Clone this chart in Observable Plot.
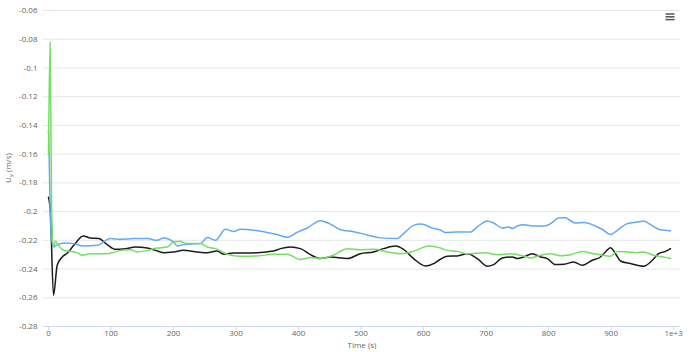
<!DOCTYPE html>
<html>
<head>
<meta charset="utf-8">
<script src="https://cdn.jsdelivr.net/npm/d3@7"></script>
<script src="https://cdn.jsdelivr.net/npm/@observablehq/plot@0.6"></script>
<style>
  html, body { margin: 0; padding: 0; background: #fff; }
  #chart { width: 690px; height: 352px; }
</style>
</head>
<body>
<div id="chart"></div>
<script>
const xTicks = [0, 100, 200, 300, 400, 500, 600, 700, 800, 900, 1000];
const yTicks = [-0.28, -0.26, -0.24, -0.22, -0.2, -0.18, -0.16, -0.14, -0.12, -0.1, -0.08, -0.06];
const seriesNames = ["Probe 1", "Probe 2", "Probe 3"];
const seriesColors = ["#62aaf0", "#1c1c1c", "#74df62"];

const blueT = [0, 1, 3, 6, 8.5, 14, 27, 40, 56, 78, 99, 115, 136, 158, 174, 184, 200, 206, 216, 243, 254, 267, 283, 296, 307, 328, 350, 366, 382, 398, 414, 435, 451, 467, 488, 510, 531, 558, 568, 584, 595, 616, 627, 635, 654, 675, 686, 702, 712, 726, 736, 742, 750, 760, 774, 793, 803, 816, 827, 835, 843, 857, 872, 888, 899, 910, 926, 942, 952, 963, 976, 987, 995];
const blueV = [-0.143, -0.16, -0.205, -0.222, -0.2247, -0.223, -0.2219, -0.2223, -0.224, -0.2235, -0.2188, -0.2193, -0.2188, -0.2188, -0.22, -0.2184, -0.2212, -0.224, -0.223, -0.2223, -0.2181, -0.22, -0.2123, -0.2139, -0.2123, -0.213, -0.2146, -0.216, -0.2179, -0.2144, -0.2114, -0.2063, -0.2087, -0.2126, -0.214, -0.2163, -0.2183, -0.2188, -0.2153, -0.2096, -0.2087, -0.2117, -0.2128, -0.2146, -0.2142, -0.2142, -0.2107, -0.2065, -0.2079, -0.2114, -0.2107, -0.2118, -0.21, -0.2091, -0.21, -0.21, -0.2084, -0.2045, -0.2043, -0.2064, -0.2079, -0.2076, -0.2095, -0.213, -0.216, -0.213, -0.2084, -0.2073, -0.2066, -0.2091, -0.2123, -0.213, -0.2135];

const blackT = [0, 3, 8, 13.9, 21.9, 29.9, 40.5, 55.5, 67, 80.5, 94, 107, 123, 139, 158, 171, 184, 200, 216, 238, 254, 270, 280, 296, 323, 360, 371, 387, 403, 419, 435, 451, 478, 499, 520, 536, 555, 568, 584, 603, 616, 627, 638, 654, 670, 686, 702, 712, 726, 742, 750, 760, 774, 787, 798, 811, 825, 840, 854, 870, 883, 891, 899, 907, 915, 931, 952, 966, 976, 987, 995];
const blackV = [-0.19, -0.2, -0.2583, -0.2374, -0.2316, -0.229, -0.2235, -0.217, -0.2184, -0.2188, -0.223, -0.2263, -0.2258, -0.2247, -0.2254, -0.227, -0.2286, -0.2281, -0.227, -0.2281, -0.2286, -0.2274, -0.2297, -0.2288, -0.2288, -0.2274, -0.2258, -0.2247, -0.2258, -0.23, -0.2327, -0.2316, -0.2327, -0.2293, -0.2281, -0.2258, -0.224, -0.2263, -0.2327, -0.2379, -0.2362, -0.2332, -0.2311, -0.2309, -0.2293, -0.2327, -0.2381, -0.2369, -0.2323, -0.2316, -0.2327, -0.2316, -0.2293, -0.2316, -0.2327, -0.2369, -0.2367, -0.2351, -0.2374, -0.2339, -0.2316, -0.2281, -0.2251, -0.2293, -0.2344, -0.2362, -0.2381, -0.2339, -0.2293, -0.2277, -0.2258];

const greenT = [0, 2.5, 5, 8, 11, 16, 24.5, 35, 46, 54, 67, 83, 94, 102, 115, 131, 142, 158, 174, 190, 200, 211, 216, 227, 243, 254, 267, 286, 307, 334, 360, 382, 403, 419, 435, 456, 478, 499, 520, 542, 563, 584, 608, 627, 638, 654, 670, 699, 718, 739, 760, 771, 787, 803, 819, 835, 854, 872, 888, 899, 910, 926, 942, 952, 968, 984, 995];
const greenV = [-0.16, -0.082, -0.2, -0.224, -0.2205, -0.2235, -0.227, -0.2277, -0.2286, -0.2304, -0.2293, -0.2293, -0.2293, -0.2286, -0.227, -0.2265, -0.2281, -0.227, -0.2254, -0.2247, -0.2212, -0.2207, -0.2216, -0.2223, -0.2223, -0.2247, -0.2258, -0.2297, -0.2311, -0.2309, -0.2297, -0.2297, -0.2334, -0.232, -0.2327, -0.2304, -0.2258, -0.2265, -0.2263, -0.2281, -0.2293, -0.2277, -0.224, -0.2254, -0.227, -0.2277, -0.2293, -0.2286, -0.23, -0.2293, -0.2309, -0.2323, -0.2304, -0.2293, -0.2308, -0.23, -0.2277, -0.2293, -0.2304, -0.2311, -0.2277, -0.2281, -0.2286, -0.2281, -0.2304, -0.2316, -0.2327];

const toRows = (ts, vs, name) => ts.map((t, i) => ({ t, v: vs[i], name }));
const data = [
  ...toRows(blackT, blackV, seriesNames[1]),
  ...toRows(blueT, blueV, seriesNames[0]),
  ...toRows(greenT, greenV, seriesNames[2])
];

const yFmt = d => String(Math.round(d * 100) / 100);
const xFmt = d => d === 1000 ? "1e+3" : String(d);

const chart = Plot.plot({
  width: 690,
  height: 352,
  marginLeft: 43,
  marginRight: 10,
  marginTop: 10,
  marginBottom: 26,
  style: { fontFamily: "'Open Sans', sans-serif", fontSize: "8px", color: "#666", background: "#fff" },
  x: { domain: [-8, 1011], label: null },
  y: { domain: [-0.28, -0.06], label: null },
  color: { domain: seriesNames, range: seriesColors },
  marks: [
    Plot.gridY(yTicks, { stroke: "#e6e6e6", strokeOpacity: 1 }),
    Plot.axisY(yTicks, { tickSize: 0, tickPadding: 6, tickFormat: yFmt, fill: "#666", label: null }),
    Plot.ruleY([-0.28], { stroke: "#ccd6eb" }),
    Plot.axisX(xTicks, { tickSize: 4, tickPadding: 0, stroke: "#ccd6eb", fill: "#666", tickFormat: xFmt, label: null }),
    Plot.text(["Time (s)"], { frameAnchor: "bottom", lineAnchor: "top", dy: 15.5, fill: "#666", fontSize: 8 }),
    Plot.line(data, { x: "t", y: "v", z: "name", stroke: "name", strokeWidth: 1.5, curve: "monotone-x" })
  ]
});

const svg = d3.select(chart);
// y axis title with subscript
const yt = svg.append("text")
  .attr("transform", "translate(11,168) rotate(-90)")
  .attr("text-anchor", "middle")
  .attr("fill", "#666")
  .attr("font-size", 8);
yt.append("tspan").text("U");
yt.append("tspan").attr("font-size", 6).attr("dy", 2).text("y");
yt.append("tspan").attr("dy", -2).text(" (m/s)");
// context menu icon
const menu = svg.append("g").attr("stroke", "#555").attr("stroke-width", 1.5);
[14, 16.8, 19.6].forEach(y => menu.append("line").attr("x1", 665.5).attr("x2", 674.5).attr("y1", y).attr("y2", y));

document.getElementById("chart").appendChild(chart);
</script>
</body>
</html>
